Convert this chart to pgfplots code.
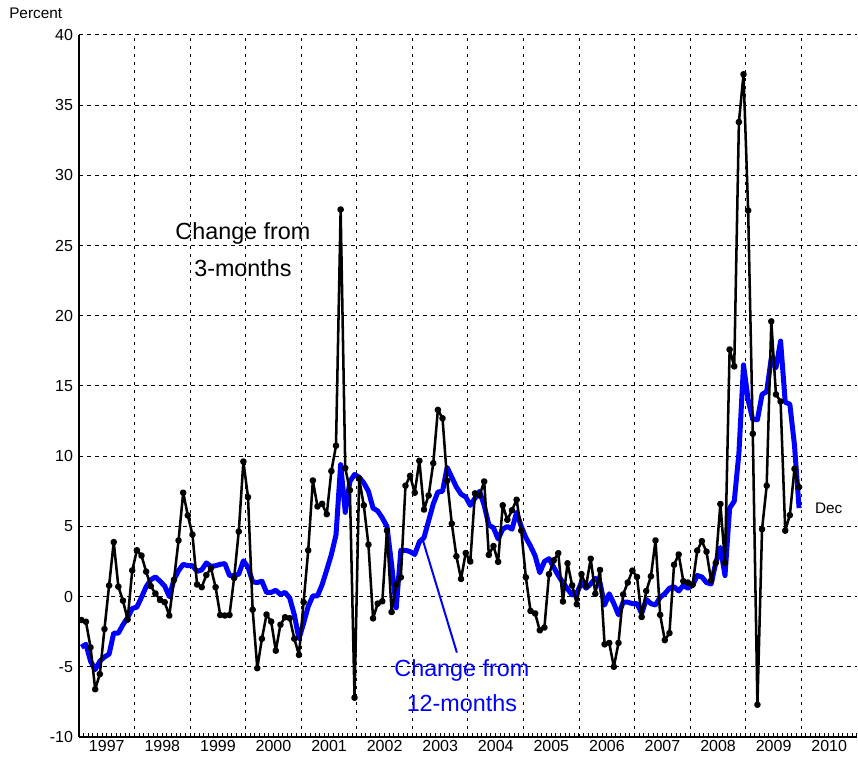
\documentclass[border=0pt]{standalone}
\usepackage{fontspec}
\setmainfont{Liberation Sans}
\usepackage{pgfplots}
\pgfplotsset{compat=1.18}
\usepackage{pgfplotstable}

% b = change from 3 months (black), c = change from 12 months (blue); monthly Jan 1997 - Dec 2009
\pgfplotstableread{
b c
-1.67 -3.6
-1.79 -3.4
-3.62 -4.6
-6.6 -5.2
-5.52 -4.6
-2.31 -4.3
0.79 -4.1
3.88 -2.6
0.71 -2.6
-0.29 -2.0
-1.64 -1.5
1.86 -0.85
3.3 -0.75
2.92 -0.05
1.78 0.7
0.75 1.2
0.22 1.4
-0.24 1.1
-0.4 0.75
-1.35 0.0
1.19 1.2
4.0 1.85
7.4 2.3
5.78 2.2
4.42 2.2
0.86 1.8
0.67 1.9
1.54 2.4
2.02 2.15
0.67 2.2
-1.31 2.3
-1.35 2.35
-1.31 1.5
1.33 1.5
4.63 1.6
9.62 2.55
7.08 2.1
-0.93 1.05
-5.1 1.0
-3.0 1.1
-1.28 0.3
-1.78 0.3
-3.85 0.45
-2.0 0.15
-1.47 0.3
-1.54 -0.1
-3.0 -1.3
-4.15 -3.0
-0.4 -1.9
3.29 -0.7
8.27 0.05
6.42 0.05
6.61 0.85
5.87 1.9
8.94 3.0
10.75 4.4
27.57 9.4
9.15 6.0
7.58 8.2
-7.2 8.7
8.4 8.5
6.5 8.1
3.7 7.5
-1.55 6.3
-0.5 6.1
-0.33 5.6
4.7 5.0
-1.1 2.3
0.85 -0.8
1.37 3.3
7.9 3.3
8.6 3.2
7.4 3.0
9.67 3.9
6.2 4.2
7.2 5.4
9.5 6.6
13.3 7.45
12.7 7.5
8.25 9.2
5.2 8.5
2.87 7.8
1.26 7.3
3.1 7.1
2.5 6.5
7.35 7.0
7.2 7.5
8.2 6.5
2.97 5.1
3.6 4.9
2.48 4.1
6.5 4.8
5.47 5.0
6.15 4.8
6.9 6.0
4.7 5.0
1.37 4.2
-1.02 3.6
-1.2 2.9
-2.4 1.7
-2.2 2.5
1.6 2.7
2.58 2.1
3.09 1.5
-0.35 1.0
2.37 0.55
0.8 0.1
-0.55 0.25
1.6 1.0
0.75 0.6
2.7 0.9
0.2 1.3
1.9 1.0
-3.4 -0.6
-3.3 0.2
-5.0 -0.5
-3.3 -1.3
0.15 -0.4
1.0 -0.4
1.85 -0.5
1.4 -0.5
-1.45 -1.2
0.4 -0.2
1.45 -0.5
4.0 -0.6
-1.3 -0.05
-3.1 0.2
-2.6 0.6
2.27 0.7
3.0 0.4
1.1 0.8
1.0 0.6
0.85 0.8
3.28 1.5
3.95 1.4
3.2 1.0
1.15 0.9
2.4 2.4
6.6 3.5
2.4 1.5
17.6 6.3
16.4 6.8
33.8 10.2
37.2 16.5
27.5 14.0
11.6 12.6
-7.7 12.6
4.8 14.4
7.9 14.6
19.6 17.0
14.4 16.3
13.9 18.2
4.7 13.85
5.8 13.7
9.1 10.8
7.8 6.3
}\data

\begin{document}
\begin{tikzpicture}
\begin{axis}[
  scale only axis, width=583.5pt, height=526.5pt,
  at={(0,0)}, anchor=south west,
  xmin=1997, xmax=2011, ymin=-10, ymax=40,
  axis x line*=bottom, axis y line*=left,
  axis line style={line width=1pt, black},
  ytick={-10,-5,...,40},
  xtick={1997.5,1998.5,...,2010.5},
  xticklabels={1997,1998,1999,2000,2001,2002,2003,2004,2005,2006,2007,2008,2009,2010},
  major tick length=0pt,
  minor xtick={1997,1997.0833333,...,2011},
  minor tick length=3pt,
  tick align=inside,
  minor tick style={line width=0.75pt, black},
  ymajorgrids,
  major grid style={line width=0.75pt, black, dash pattern=on 3pt off 3pt},
  extra x ticks={1998,1999,...,2010},
  extra x tick labels={},
  extra x tick style={grid=major, major grid style={line width=0.75pt, black, dash pattern=on 2.2pt off 3.8pt}},
  tick label style={font=\fontsize{12}{14}\selectfont},
  /pgf/number format/assume math mode=true,
  yticklabel style={xshift=-1pt},
  xticklabel style={yshift=1pt},
  clip=false,
]
\addplot[draw={rgb,255:red,0;green,0;blue,255}, line width=3.75pt, line join=round, no marks]
  table[x expr=1997+(\coordindex+0.5)/12, y=c] {\data};
\addplot[black, line width=1.9pt, line join=round, mark=*, mark size=1.5pt]
  table[x expr=1997+(\coordindex+0.5)/12, y=b] {\data};
\draw[color={rgb,255:red,0;green,0;blue,255}, line width=1.5pt] (axis cs:2003.19,3.99) -- (axis cs:2003.8,-3.99);
\node[font=\fontsize{17.5}{21}\selectfont] at (axis cs:1999.95,25.85) {Change from};
\node[font=\fontsize{17.5}{21}\selectfont] at (axis cs:1999.95,23.36) {3-months};
\node[font=\fontsize{17.5}{21}\selectfont, text={rgb,255:red,0;green,0;blue,255}] at (axis cs:2003.89,-5.27) {Change from};
\node[font=\fontsize{17.5}{21}\selectfont, text={rgb,255:red,0;green,0;blue,255}] at (axis cs:2003.89,-7.62) {12-months};
\node[font=\fontsize{11.5}{13}\selectfont] at (axis cs:2010.49,6.27) {Dec};
\end{axis}
\node[anchor=west, inner sep=0pt, font=\fontsize{11.5}{13}\selectfont] at (-52.5pt,543pt) {Percent};
\pgfresetboundingbox
\path (-59.25pt,-17.25pt) rectangle (584.25pt,552.75pt);
\end{tikzpicture}
\end{document}
